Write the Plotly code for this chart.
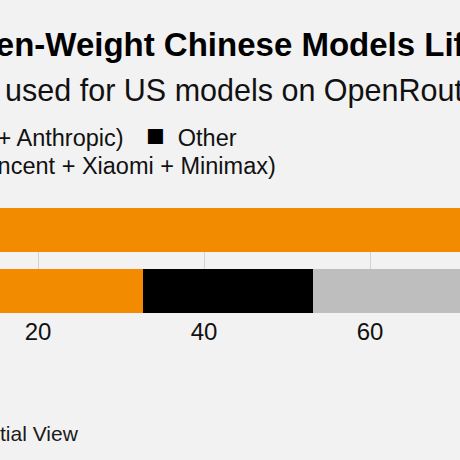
import plotly.graph_objects as go

# ---- data ----
categories = ["Closed models", "All tokens"]          # top bar, bottom bar
us_share = [86.0, 32.6]       # US (OpenAI + Google + Anthropic)
other_share = [5.0, 20.5]     # Other
china_share = [9.0, 46.9]     # China (DeepSeek + Qwen + ... + Minimax)
x_ticks = [0, 20, 40, 60, 80, 100]
x_tick_labels = ["0", "20", "40", "60", "80", "100"]

title_text = "<b>Open-Weight Chinese Models Lift Off on OpenRouter</b>"
subtitle_text = "Share of tokens used for US models on OpenRouter, %"
legend_us = "US (OpenAI + Google + Anthropic)"
legend_other = "Other"
legend_china = "China (DeepSeek + Qwen + Moonshot + Tencent + Xiaomi + Minimax)"
source_text = "Source: OpenRouter, Potential View"

ORANGE = "#F28B00"
BLACK = "#000000"
GREY = "#BEBEBE"
BG = "#F2F2F2"
FONT = "Liberation Sans, Arial, Helvetica, sans-serif"

fig = go.Figure()
fig.add_trace(go.Bar(y=categories, x=us_share, orientation="h", name=legend_us,
                     marker=dict(color=ORANGE, line=dict(width=0))))
fig.add_trace(go.Bar(y=categories, x=other_share, orientation="h", name=legend_other,
                     marker=dict(color=BLACK, line=dict(width=0))))
fig.add_trace(go.Bar(y=categories, x=china_share, orientation="h", name=legend_china,
                     marker=dict(color=GREY, line=dict(width=0))))

fig.update_layout(
    width=460, height=460,
    margin=dict(l=0, r=0, t=208, b=147),
    paper_bgcolor=BG, plot_bgcolor=BG,
    barmode="stack", bargap=0.285,
    showlegend=False,
    font=dict(family=FONT, color="#111111"),
)
fig.update_xaxes(range=[15.42, 70.84], tickvals=x_ticks, ticktext=x_tick_labels,
                 showgrid=True, gridcolor="#D2D2D2", gridwidth=1,
                 zeroline=False, showline=False, ticks="", ticklabelstandoff=2,
                 tickfont=dict(size=24, color="#111111"))
fig.update_yaxes(type="category", range=[1.358, -0.358], showticklabels=False,
                 showgrid=False, zeroline=False, showline=False)

def ann(text, xshift, yref_y, yshift, size, xanchor="left", color="#111111"):
    fig.add_annotation(text=text, xref="paper", yref="paper", x=0, y=yref_y,
                       xshift=xshift, yshift=yshift, xanchor=xanchor, yanchor="middle",
                       showarrow=False, borderpad=0, borderwidth=0,
                       font=dict(size=size, color=color, family=FONT))

def swatch(color):
    return f'<span style="color:{color};font-size:31px">■</span>'

ann(title_text, -50, 1, 164, 33, color="#000000")
ann(subtitle_text, -217, 1, 118, 30.5)
ann(f'{swatch(ORANGE)}  {legend_us}', 124, 1, 73, 23.5, xanchor="right")
ann(f'{swatch(BLACK)}  {legend_other}', 146, 1, 73, 23.5)
ann(f'{swatch(GREY)}  {legend_china}', 276, 1, 45, 23.5, xanchor="right")
ann(source_text, 79, 0, -120, 21, xanchor="right", color="#1A1A1A")

fig.write_html(
    "out.html",
    config={"displayModeBar": False},
    post_script="document.body.style.margin='0';document.body.style.padding='0';"
                "document.documentElement.style.overflow='hidden';",
)
